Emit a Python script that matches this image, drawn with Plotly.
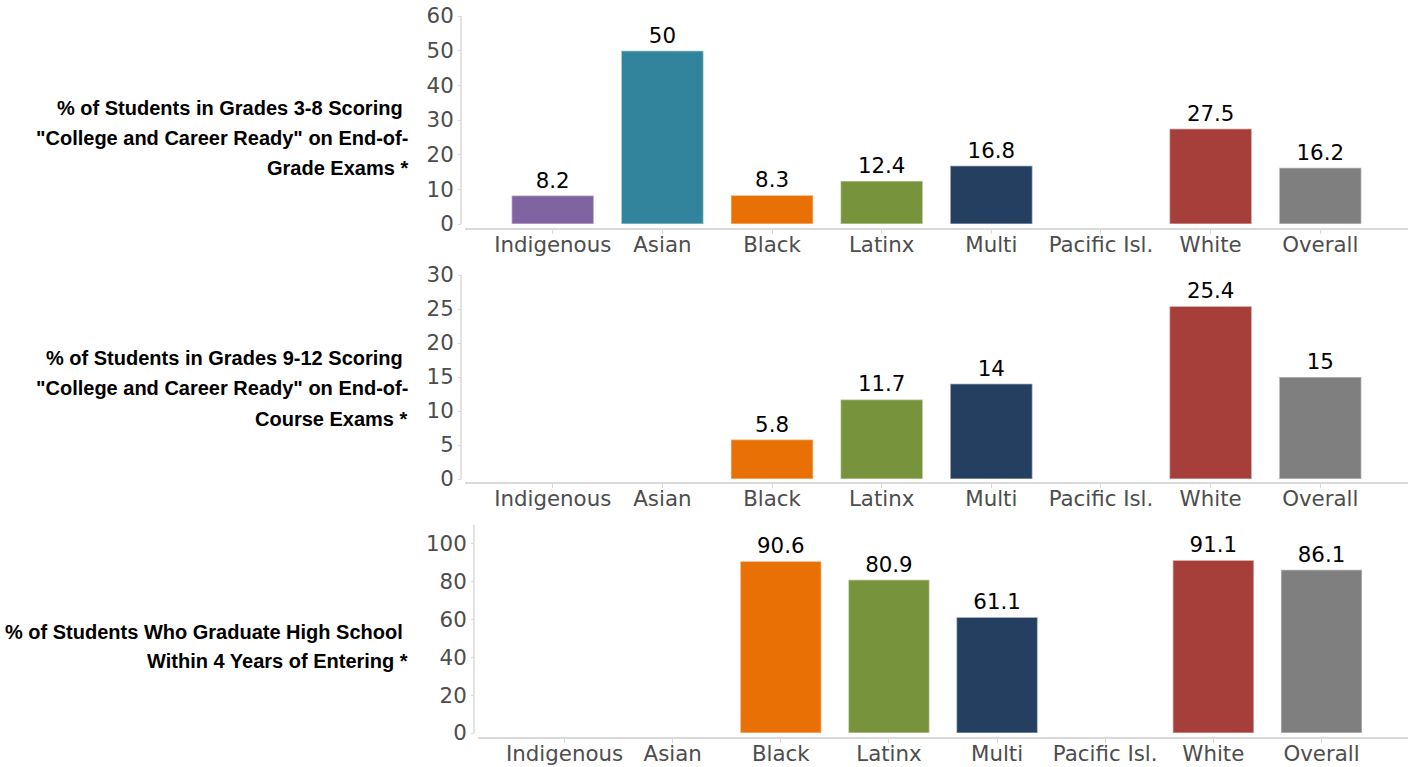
import plotly.graph_objects as go

# ---------------- data ----------------
categories = ["Indigenous", "Asian", "Black", "Latinx", "Multi", "Pacific Isl.", "White", "Overall"]
eog_ready = [8.2, 50, 8.3, 12.4, 16.8, None, 27.5, 16.2]        # grades 3-8, end-of-grade
eoc_ready = [None, None, 5.8, 11.7, 14, None, 25.4, 15]         # grades 9-12, end-of-course
grad_4yr = [None, None, 90.6, 80.9, 61.1, None, 91.1, 86.1]     # 4-year graduation
bar_colors = ["#8064A2", "#31849B", "#E97005", "#77933C", "#243F60", "#4BACC6", "#A63F3A", "#7F7F7F"]

label_eog = ["% of Students in Grades 3-8 Scoring\u00a0",
             "\"College and Career Ready\" on End-of-",
             "Grade Exams *"]
label_eoc = ["% of Students in Grades 9-12 Scoring\u00a0",
             "\"College and Career Ready\" on End-of-",
             "Course Exams *"]
label_grad = ["% of Students Who Graduate High School\u00a0",
              "Within 4 Years of Entering *"]

# ---------------- layout helpers ----------------
W, H = 1416, 767
RIGHT = 1408


def fx(p):
    return p / W


def fy(p):
    return 1 - p / H


panels = [
    dict(values=eog_ready, ymax=60, tickmax=60, dtick=10, top=16, zero=224, bottom=228,
         left=465, axis_x=461, lines=label_eog, line_y=[108, 138, 168]),
    dict(values=eoc_ready, ymax=30, tickmax=30, dtick=5, top=275, zero=479, bottom=482,
         left=465, axis_x=461, lines=label_eoc, line_y=[358, 388, 419]),
    dict(values=grad_4yr, ymax=110, tickmax=100, dtick=20, top=524.5, zero=733, bottom=737,
         left=478, axis_x=474, lines=label_grad, line_y=[632, 661]),
]

TICK_FONT = dict(family="DejaVu Sans", size=21.33, color="#4d4d4d")
AXIS_COL = "#d9d9d9"

fig = go.Figure()
annotations = []
shapes = []
layout = {}

for i, p in enumerate(panels, start=1):
    sfx = "" if i == 1 else str(i)
    unit = (p["zero"] - p["top"]) / p["ymax"]
    ymin = -(p["bottom"] - p["zero"]) / unit
    fig.add_trace(go.Bar(
        x=categories, y=p["values"],
        xaxis="x" + sfx, yaxis="y" + sfx,
        marker=dict(color=bar_colors, line=dict(color="rgba(255,255,255,0.45)", width=1.5)),
        text=[("" if v is None else f"{v:g}") for v in p["values"]],
        textposition="outside", cliponaxis=False, constraintext="none",
        textfont=dict(family="DejaVu Sans", size=21.33, color="#000000"),
        hoverinfo="x+y", showlegend=False,
    ))
    layout["xaxis" + sfx] = dict(
        domain=[fx(p["left"]), fx(RIGHT)], anchor="y" + sfx,
        range=[-0.8, 7.8], showgrid=False, zeroline=False,
        showline=True, linecolor=AXIS_COL, linewidth=1.5,
        ticks="outside", ticklen=4, tickcolor=AXIS_COL, tickwidth=1,
        ticklabelstandoff=-7,
        tickfont=TICK_FONT, fixedrange=True, automargin=False,
    )
    layout["yaxis" + sfx] = dict(
        domain=[fy(p["bottom"]), fy(p["top"])], anchor="free", position=fx(p["axis_x"]),
        range=[ymin, p["ymax"]], showgrid=False, zeroline=False, showline=False,
        tickvals=list(range(0, p["tickmax"] + 1, p["dtick"])),
        ticks="outside", ticklen=3, tickcolor=AXIS_COL,
        tickfont=TICK_FONT, fixedrange=True, automargin=False,
    )
    shapes.append(dict(type="line", xref="paper", yref="y" + sfx,
                       x0=fx(p["axis_x"]), x1=fx(p["axis_x"]), y0=0, y1=p["ymax"],
                       line=dict(color=AXIS_COL, width=1.5), layer="below"))
    for line, ly in zip(p["lines"], p["line_y"]):
        annotations.append(dict(
            text="<b>" + line + "</b>", xref="paper", yref="paper",
            x=fx(410), y=fy(ly), xanchor="right", yanchor="middle",
            showarrow=False, align="right",
            font=dict(family="Liberation Sans, Arial", size=20, color="#000000"),
        ))

fig.update_layout(
    width=W, height=H, autosize=False,
    margin=dict(l=0, r=0, t=0, b=0, pad=0, autoexpand=False),
    paper_bgcolor="white", plot_bgcolor="white",
    bargap=0.25,
    annotations=annotations, shapes=shapes,
    **layout,
)

fig.write_html("out.html", config={"displayModeBar": False},
               post_script="document.body.style.margin='0';document.body.style.overflow='hidden';")
